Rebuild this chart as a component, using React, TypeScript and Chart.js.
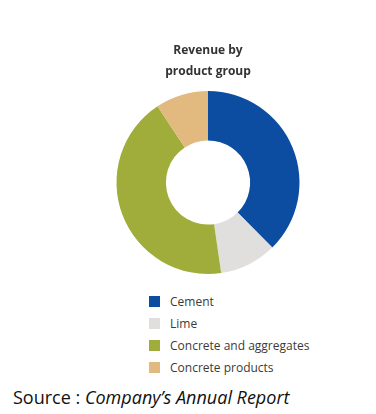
import React, { useEffect, useRef } from "react";
import { Chart, registerables } from "chart.js";

Chart.register(...registerables);

const titleLines = ["Revenue by", "product group"];
const categories = ["Cement", "Lime", "Concrete and aggregates", "Concrete products"];
const shares = [37.6, 10.1, 43.0, 9.3];
const colors = ["#0C4DA2", "#E0DFDD", "#A0AD3A", "#E2B97F"];
const sourceLabel = "Source : ";
const sourceName = "Company\u2019s Annual Report";

export default function App() {
  const ref = useRef<HTMLCanvasElement | null>(null);

  useEffect(() => {
    if (!ref.current) return;
    const chart = new Chart(ref.current, {
      type: "doughnut",
      data: {
        labels: categories,
        datasets: [
          {
            data: shares,
            backgroundColor: colors,
            borderWidth: 0,
            hoverOffset: 0,
          },
        ],
      },
      options: {
        animation: false,
        responsive: false,
        maintainAspectRatio: false,
        cutout: "46%",
        layout: { padding: { top: 0, bottom: 11, left: 0, right: 0 } },
        plugins: {
          legend: { display: false },
          tooltip: { enabled: false },
          title: {
            display: true,
            text: titleLines,
            color: "#333333",
            font: { family: "'Open Sans', sans-serif", size: 12, weight: "bold", lineHeight: 1.75 },
            padding: { top: 40, bottom: 9 },
          },
        },
      },
    });
    return () => chart.destroy();
  }, []);

  return (
    <div style={{ position: "absolute", left: 0, top: 0, width: 376, height: 414, background: "#fff" }}>
      <canvas
        ref={ref}
        width={336}
        height={285}
        style={{ position: "absolute", left: 40, top: 0, width: 336, height: 285 }}
      />
      <div style={{ position: "absolute", left: 149, top: 290 }}>
        {categories.map((c, i) => (
          <div key={c} style={{ display: "flex", alignItems: "center", height: 22 }}>
            <span style={{ display: "inline-block", width: 11, height: 11, background: colors[i], marginRight: 10 }} />
            <span style={{ fontFamily: "'Open Sans', sans-serif", fontSize: 12, color: "#3a3a3a" }}>{c}</span>
          </div>
        ))}
      </div>
      <div
        style={{
          position: "absolute",
          left: 13,
          top: 386,
          fontFamily: "'Open Sans', sans-serif",
          fontSize: 18,
          color: "#111",
          whiteSpace: "nowrap",
          lineHeight: "22px",
        }}
      >
        {sourceLabel}
        <i>{sourceName}</i>
      </div>
    </div>
  );
}
